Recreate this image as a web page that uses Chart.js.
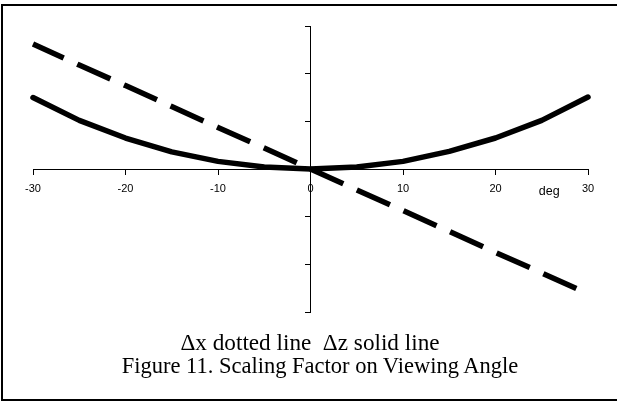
<!DOCTYPE html>
<html>
<head>
<meta charset="utf-8">
<script src="https://cdn.jsdelivr.net/npm/chart.js@4"></script>
<style>
  html, body { margin: 0; background: #fff; overflow: hidden; width: 617px; height: 401px; }
  #frame { position: absolute; left: 1px; top: 4px; width: 640px; height: 393px;
           border: 2px solid #000; border-right: none; }
  #wrap { position: absolute; left: 0; top: 0; width: 617px; height: 401px; }
  .cap { position: absolute; font-family: "Liberation Serif", "Times New Roman", serif;
         font-size: 22.5px; line-height: 23px; white-space: pre; transform: translateX(-50%); color: #000; }
</style>
</head>
<body>
<div id="frame"></div>
<div id="wrap"><canvas id="graphCanvas" width="617" height="401"></canvas></div>
<div class="cap" style="left:310px; top:331px; font-size:23.2px;">Δx dotted line  Δz solid line</div>
<div class="cap" style="left:320px; top:354px;">Figure 11. Scaling Factor on Viewing Angle</div>
<script>
// viewing angle [deg]
const angles = [-30, -25, -20, -15, -10, -5, 0, 5, 10, 15, 20, 25, 30];
// Δx (dashed) and Δz (solid)
const dxValues = [2.62, 2.18, 1.75, 1.31, 0.87, 0.44, 0, -0.44, -0.87, -1.31, -1.75, -2.18, -2.62];
const dzValues = [1.50, 1.02, 0.65, 0.36, 0.16, 0.04, 0, 0.04, 0.16, 0.37, 0.65, 1.02, 1.51];
const xTicks = [-30, -20, -10, 0, 10, 20, 30];
const unitLabel = "deg";

function toPoints(vals) {
  return angles.map((a, i) => ({ x: a, y: vals[i] }));
}

// small label "deg" next to the x axis
const unitPlugin = {
  id: "unitLabel",
  afterDraw(chart) {
    const ctx = chart.ctx;
    const x = chart.scales.x.getPixelForValue(25.8);
    const y = chart.scales.y.getPixelForValue(0) + 26;
    ctx.save();
    ctx.font = "12.5px 'Liberation Sans', Arial, sans-serif";
    ctx.fillStyle = "#000";
    ctx.textAlign = "center";
    ctx.textBaseline = "alphabetic";
    ctx.fillText(unitLabel, x, y);
    ctx.restore();
  },
};

let ctx = document.getElementById("graphCanvas").getContext("2d");
let graphChart = new Chart(ctx, {
  type: "line",
  data: {
    datasets: [
      {
        label: "Δz",
        data: toPoints(dzValues),
        borderColor: "#000",
        borderWidth: 5.5,
        borderCapStyle: "round",
        borderJoinStyle: "round",
        pointRadius: 0,
        tension: 0,
        clip: false,
      },
      {
        label: "Δx",
        data: toPoints(dxValues),
        borderColor: "#000",
        borderWidth: 5.5,
        borderDash: [36.2, 14.9],
        borderDashOffset: 2.5,
        borderCapStyle: "butt",
        pointRadius: 0,
        tension: 0,
        clip: false,
      },
    ],
  },
  options: {
    responsive: false,
    animation: false,
    layout: { padding: { left: 33, right: 29, top: 26, bottom: 89 } },
    plugins: { legend: { display: false }, tooltip: { enabled: false } },
    scales: {
      x: {
        type: "linear",
        position: { y: 0 },
        min: -30,
        max: 30,
        afterBuildTicks: (axis) => { axis.ticks = xTicks.map((v) => ({ value: v })); },
        grid: { drawOnChartArea: false, drawTicks: true, tickLength: 5, color: "#000", lineWidth: 1 },
        border: { display: true, color: "#000", width: 1 },
        ticks: {
          color: "#000",
          padding: 8,
          maxRotation: 0,
          font: { family: "'Liberation Sans', Arial, sans-serif", size: 11 },
        },
      },
      y: {
        type: "linear",
        position: { x: 0 },
        min: -3,
        max: 3,
        ticks: { stepSize: 1, callback: () => "" },
        grid: { drawOnChartArea: false, drawTicks: true, tickLength: 5, color: "#000", lineWidth: 1 },
        border: { display: true, color: "#000", width: 1 },
      },
    },
  },
  plugins: [unitPlugin],
});
</script>
</body>
</html>
